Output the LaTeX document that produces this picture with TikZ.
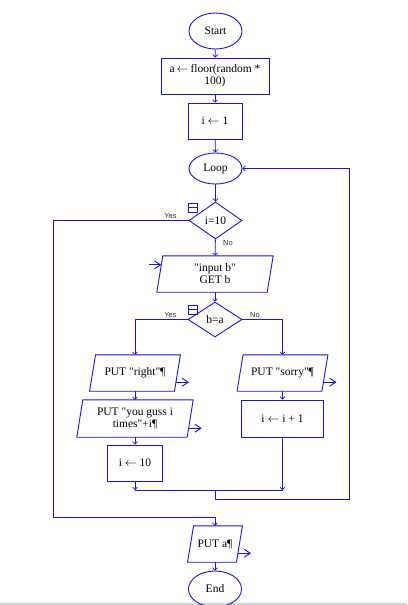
\documentclass[tikz,border=0pt]{standalone}
\usepackage{fontspec}
\setmainfont[Ligatures=TeXOff]{Liberation Serif}
\newfontfamily\lblfont{Liberation Sans}
\usetikzlibrary{shapes.geometric,arrows.meta,calc}
\definecolor{fc}{RGB}{20,20,240}
\newcommand\ioshape[1]{\draw[line] ([xshift=3pt]#1.north west) -- ([xshift=3pt]#1.north east) -- ([xshift=-3pt]#1.south east) -- ([xshift=-3pt]#1.south west) -- cycle;}
\newcommand\asgn{\ensuremath{\leftarrow}}
\begin{document}
\begin{tikzpicture}[x=1pt,y=-1pt,
 every node/.style={font=\fontsize{11.5}{12}\selectfont, text=black, inner sep=1pt},
 line/.style={draw=fc, line width=0.9pt},
 box/.style={line, rectangle, minimum height=36pt, align=center},
 term/.style={line, ellipse, minimum width=53pt, minimum height=36pt, inner sep=0pt},
 dec/.style={line, diamond, minimum width=53pt, minimum height=37pt, inner sep=0pt},
 io/.style={rectangle, minimum height=36pt, align=center},
 flow/.style={line, -{Straight Barb[length=2.5pt,width=5pt,line width=0.6pt]}},
 outarrow/.style={line, -{Straight Barb[length=6pt,width=8pt]}},
 lbl/.style={font=\lblfont\fontsize{7.5}{8}\selectfont, text=black!80, inner sep=0pt},
 icon/.style={line, line width=0.8pt, rectangle, minimum size=8.5pt, inner sep=0pt}
]
\useasboundingbox (0,0) rectangle (407,605);
\fill[gray!35] (0,603) rectangle (407,605);

\node[term] (start) at (215.5,31) {Start};
\node[box, minimum width=108pt] (init) at (215,76) {a\,\asgn\,floor(random *\\100)};
\node[box, minimum width=54pt] (i1) at (215,121) {i \asgn{} 1};
\node[term, minimum height=31pt] (loop) at (215.5,168.5) {Loop};
\node[dec] (d1) at (215.5,220.5) {i=10};
\node[io, minimum width=110pt] (inp) at (215,274) {"input b"\\GET b};
\node[dec, minimum width=54pt, minimum height=35pt] (d2) at (215,319.5) {b=a};
\node[io, minimum width=84.5pt] (putr) at (135,373) {PUT "right"¶};
\node[io, minimum width=110pt, minimum height=37pt] (guss) at (135,418.5) {PUT "you guss i\\times"+i¶};
\node[box, minimum width=55pt] (i10) at (135,463) {i \asgn{} 10};
\node[io, minimum width=84.5pt] (sorry) at (282.5,373) {PUT "sorry"¶};
\node[box, minimum width=82pt, minimum height=37pt] (inc) at (282.5,418.5) {i \asgn{} i + 1};
\node[io, minimum width=48.5pt] (puta) at (215,544) {PUT a¶};
\node[term] (end) at (215,589) {End};

\ioshape{inp}
\ioshape{putr}
\ioshape{guss}
\ioshape{sorry}
\ioshape{puta}

\node[icon] (c1) at (192.75,207.75) {};
\draw[line, line width=0.8pt] (c1.west) -- (c1.east);
\node[icon] (c2) at (192.75,309.75) {};
\draw[line, line width=0.8pt] (c2.west) -- (c2.east);

\draw[flow] (start) -- (init);
\draw[flow] (init) -- (i1);
\draw[flow] (i1) -- (loop);
\draw[flow] (loop) -- (d1);
\draw[flow] (d1) -- (inp);
\draw[flow] (inp) -- (d2);
\draw[flow] (d2.west) -| (putr.north);
\draw[flow] (d2.east) -| (sorry.north);
\draw[flow] (putr) -- (guss);
\draw[flow] (guss) -- (i10);
\draw[flow] (sorry) -- (inc);

\coordinate (mL) at (135,490);
\coordinate (mR) at (282.5,490);
\coordinate (mC) at (215,490);
\coordinate (mB) at (215,499);
\coordinate (rx) at (349,499);
\coordinate (yx) at (53,517);
\draw[flow] (i10.south) -- (mL);
\draw[flow] (inc.south) -- (mR);
\draw[line] (mL) -- (mR);
\draw[flow] (mC) -- (mB) -- (rx) -- (rx |- loop.east) -- (loop.east);
\draw[flow] (d1.west) -- (d1.west -| yx) -- (yx) -- (yx -| puta.north) -- (puta.north);
\draw[flow] (puta) -- (end);

\draw[outarrow] ([xshift=-1.5pt,yshift=9pt]putr.south east) -- ++(13,0);
\draw[outarrow] ([xshift=-1.5pt,yshift=9pt]guss.south east) -- ++(13,0);
\draw[outarrow] ([xshift=-1.5pt,yshift=9pt]sorry.south east) -- ++(13,0);
\draw[outarrow] ([xshift=-1.5pt,yshift=9pt]puta.south east) -- ++(13,0);
\draw[outarrow] ([xshift=-11pt,yshift=-9pt]inp.north west) -- ([xshift=1.5pt,yshift=-9pt]inp.north west);

\node[lbl] (y1) at (170.5,215.5) {Yes};
\node[lbl] (n1) at (228,243) {No};
\node[lbl] (y2) at (170.5,314.5) {Yes};
\node[lbl] (n2) at (255,314.5) {No};
\end{tikzpicture}
\end{document}
